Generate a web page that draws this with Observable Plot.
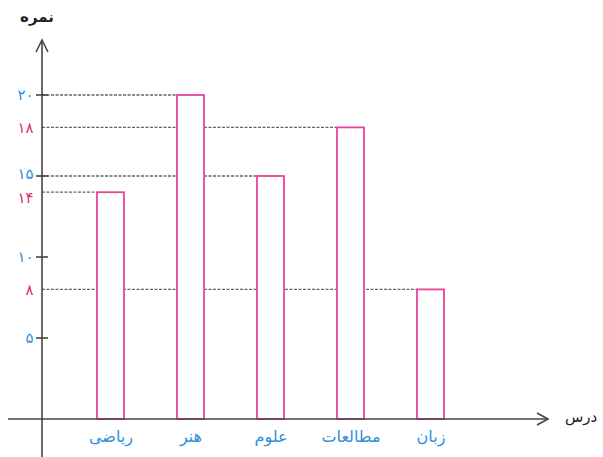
<!DOCTYPE html>
<html>
<head>
<meta charset="utf-8">
<script src="https://cdn.jsdelivr.net/npm/d3@7"></script>
<script src="https://cdn.jsdelivr.net/npm/@observablehq/plot@0.6"></script>
<style>
  html, body { margin: 0; padding: 0; background: #fff; }
  #chart svg { display: block; }
</style>
</head>
<body>
<div id="chart"></div>
<script>
// Data
const subjects = ["ریاضی", "هنر", "علوم", "مطالعات", "زبان"];
const scores = [14, 20, 15, 18, 8];
const tickValues = [20, 18, 15, 14, 10, 8, 5];
const tickLabels = ["۲۰", "۱۸", "۱۵", "۱۴", "۱۰", "۸", "۵"];
const tickColorKind = ["axis", "score", "axis", "score", "axis", "score", "axis"];
const axisTicks = [20, 15, 10, 5];
const yTitle = "نمره";
const xTitle = "درس";

const blue = "#2d8fdc";
const pink = "#e02c7c";
const barStroke = "#e8449a";

const data = subjects.map((s, i) => ({subject: s, score: scores[i]}));
const ticks = tickValues.map((v, i) => ({v, label: tickLabels[i], color: tickColorKind[i] === "axis" ? blue : pink}));

const W = 603, H = 457;
const plot = Plot.plot({
  width: W,
  height: H,
  marginLeft: 42,
  marginRight: 104,
  marginTop: 95,
  marginBottom: 38,
  style: {fontFamily: "DejaVu Sans", background: "transparent"},
  x: {domain: subjects, paddingInner: 0.665, paddingOuter: 0.67, axis: null},
  y: {domain: [0, 20], axis: null},
  marks: [
    Plot.barY(data, {x: "subject", y: "score", fill: "white", stroke: barStroke, strokeWidth: 1.8}),
    Plot.text(data, {x: "subject", text: "subject", frameAnchor: "bottom", dy: 22, fill: blue, fontSize: 16}),
    Plot.text(ticks.filter(t => t.v !== 14 && t.v !== 15), {y: "v", text: "label", frameAnchor: "left", dx: -9, textAnchor: "end", fill: "color", fontSize: 15}),
    Plot.text(ticks.filter(t => t.v === 15), {y: "v", text: "label", frameAnchor: "left", dx: -9, dy: -2, textAnchor: "end", fill: "color", fontSize: 15}),
    Plot.text(ticks.filter(t => t.v === 14), {y: "v", text: "label", frameAnchor: "left", dx: -9, dy: 5, textAnchor: "end", fill: "color", fontSize: 15})
  ]
});

const xs = plot.scale("x");
const ys = plot.scale("y");
const svg = d3.select(plot);
const deco = svg.insert("g", ":first-child");
const y0 = ys.apply(0);
const axX = 42;

// dashed guides from axis to each bar's left edge
data.forEach(d => {
  deco.append("line")
    .attr("x1", axX).attr("x2", xs.apply(d.subject))
    .attr("y1", ys.apply(d.score)).attr("y2", ys.apply(d.score))
    .attr("stroke", "#666").attr("stroke-width", 1.3).attr("stroke-dasharray", "3,1.5");
});

const axisG = svg.append("g").attr("stroke", "#444").attr("fill", "none").attr("stroke-width", 1.6);
// x axis
axisG.append("line").attr("x1", 8).attr("x2", 548).attr("y1", y0).attr("y2", y0);
axisG.append("polyline").attr("points", `${537},${y0 - 6} ${548},${y0} ${537},${y0 + 6}`);
// y axis
axisG.append("line").attr("x1", axX).attr("x2", axX).attr("y1", 40).attr("y2", H);
axisG.append("polyline").attr("points", `${axX - 6},${52} ${axX},${40} ${axX + 6},${52}`);
// tick dashes
axisTicks.forEach(v => {
  axisG.append("line").attr("x1", axX - 6).attr("x2", axX + 6).attr("y1", ys.apply(v)).attr("y2", ys.apply(v));
});

svg.append("text").attr("x", 37).attr("y", 22).attr("text-anchor", "middle")
  .attr("font-family", "DejaVu Sans").attr("font-size", 15).attr("font-weight", "bold").attr("fill", "#222").text(yTitle);
svg.append("text").attr("x", 581).attr("y", 422).attr("text-anchor", "middle")
  .attr("font-family", "DejaVu Sans").attr("font-size", 15).attr("fill", "#222").text(xTitle);

document.getElementById("chart").appendChild(plot);
</script>
</body>
</html>
